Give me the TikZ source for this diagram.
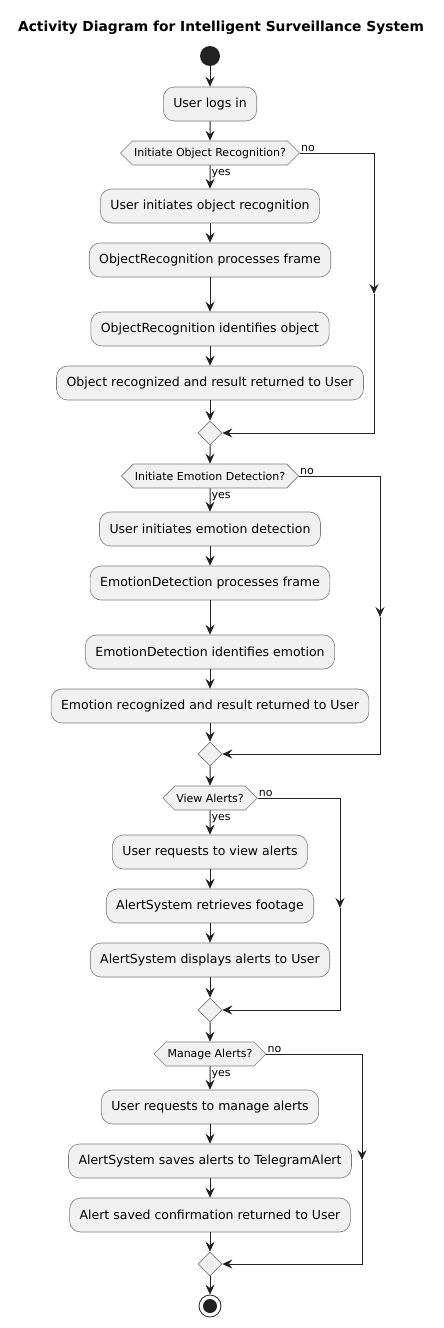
\documentclass[tikz,border=0pt]{standalone}
\usepackage{fontspec}
\setmainfont{DejaVu Sans}
\usetikzlibrary{arrows.meta,shapes.geometric,shapes.symbols}
\definecolor{boxfill}{HTML}{F1F1F1}
\definecolor{boxline}{HTML}{7A7A7A}
\definecolor{ink}{HTML}{222222}
\begin{document}
\begin{tikzpicture}[x=1pt,y=-1pt,
  action/.style={draw=boxline,fill=boxfill,line width=0.6pt,rounded corners=11pt,
    minimum height=34pt,inner xsep=10pt,font=\fontsize{12.5}{14}\selectfont},
  choice/.style={draw=boxline,fill=boxfill,line width=0.6pt,shape=signal,
    signal to=east and west,signal pointer angle=90,minimum height=24pt,
    inner xsep=1.5pt,inner ysep=0pt,font=\fontsize{11}{13}\selectfont},
  merge/.style={draw=boxline,fill=boxfill,line width=0.6pt,diamond,aspect=1,
    inner sep=0pt,minimum width=24pt,minimum height=24pt},
  flow/.style={draw=ink,line width=1pt,-{Stealth[length=10pt,width=9pt,inset=3.5pt]}},
  tag/.style={font=\fontsize{11}{13}\selectfont,inner sep=1pt}]
\useasboundingbox (0,0) rectangle (444,1328);
\node[font=\bfseries\fontsize{13.8}{16}\selectfont] (title) at (221,28) {Activity Diagram for Intelligent Surveillance System};
\node[circle,fill=ink,minimum size=20pt,inner sep=0pt] (start) at (210,56) {};
\node[action] (login) at (210,104) {User logs in};
% object recognition
\node[choice] (d1) at (210,153) {Initiate Object Recognition?};
\node[action] (a1) at (210,206) {User initiates object recognition};
\node[action] (a2) at (210,260) {ObjectRecognition processes frame};
\node[action] (a3) at (210,329) {ObjectRecognition identifies object};
\node[action] (a4) at (210,383) {Object recognized and result returned to User};
\node[merge] (m1) at (210,433) {};
\coordinate (n1) at (374,294);
% emotion detection
\node[choice] (d2) at (210,476) {Initiate Emotion Detection?};
\node[action] (b1) at (210,529) {User initiates emotion detection};
\node[action] (b2) at (210,583) {EmotionDetection processes frame};
\node[action] (b3) at (210,652) {EmotionDetection identifies emotion};
\node[action] (b4) at (210,706) {Emotion recognized and result returned to User};
\node[merge] (m2) at (210,754) {};
\coordinate (n2) at (380,617);
% view alerts
\node[choice] (d3) at (210,798) {View Alerts?};
\node[action] (c1) at (210,852) {User requests to view alerts};
\node[action] (c2) at (210,906) {AlertSystem retrieves footage};
\node[action] (c3) at (210,960) {AlertSystem displays alerts to User};
\node[merge] (m3) at (210,1010) {};
\coordinate (n3) at (340,908);
% manage alerts
\node[choice] (d4) at (210,1054) {Manage Alerts?};
\node[action] (e1) at (210,1107) {User requests to manage alerts};
\node[action] (e2) at (210,1161) {AlertSystem saves alerts to TelegramAlert};
\node[action] (e3) at (210,1215) {Alert saved confirmation returned to User};
\node[merge] (m4) at (210,1264) {};
\coordinate (n4) at (362,1160);
\node[circle,draw=ink,line width=0.8pt,minimum size=22pt,inner sep=0pt] (stop) at (210,1306) {};
\fill[ink] (stop.center) circle (7);

\draw[flow] (start) -- (login);
\draw[flow] (login) -- (d1);
\draw[flow] (d1) -- node[tag,anchor=west,pos=0.35] {yes} (a1);
\draw[flow] (a1) -- (a2);
\draw[flow] (a2) -- (a3);
\draw[flow] (a3) -- (a4);
\draw[flow] (a4) -- (m1);
\draw[flow] (d1.east) -| (n1);
\draw[flow] (n1) |- (m1.east);
\node[tag,anchor=south west] at (d1.east) {no};
\draw[flow] (m1) -- (d2);
\draw[flow] (d2) -- node[tag,anchor=west,pos=0.35] {yes} (b1);
\draw[flow] (b1) -- (b2);
\draw[flow] (b2) -- (b3);
\draw[flow] (b3) -- (b4);
\draw[flow] (b4) -- (m2);
\draw[flow] (d2.east) -| (n2);
\draw[flow] (n2) |- (m2.east);
\node[tag,anchor=south west] at (d2.east) {no};
\draw[flow] (m2) -- (d3);
\draw[flow] (d3) -- node[tag,anchor=west,pos=0.35] {yes} (c1);
\draw[flow] (c1) -- (c2);
\draw[flow] (c2) -- (c3);
\draw[flow] (c3) -- (m3);
\draw[flow] (d3.east) -| (n3);
\draw[flow] (n3) |- (m3.east);
\node[tag,anchor=south west] at (d3.east) {no};
\draw[flow] (m3) -- (d4);
\draw[flow] (d4) -- node[tag,anchor=west,pos=0.35] {yes} (e1);
\draw[flow] (e1) -- (e2);
\draw[flow] (e2) -- (e3);
\draw[flow] (e3) -- (m4);
\draw[flow] (d4.east) -| (n4);
\draw[flow] (n4) |- (m4.east);
\node[tag,anchor=south west] at (d4.east) {no};
\draw[flow] (m4) -- (stop);
\end{tikzpicture}
\end{document}
